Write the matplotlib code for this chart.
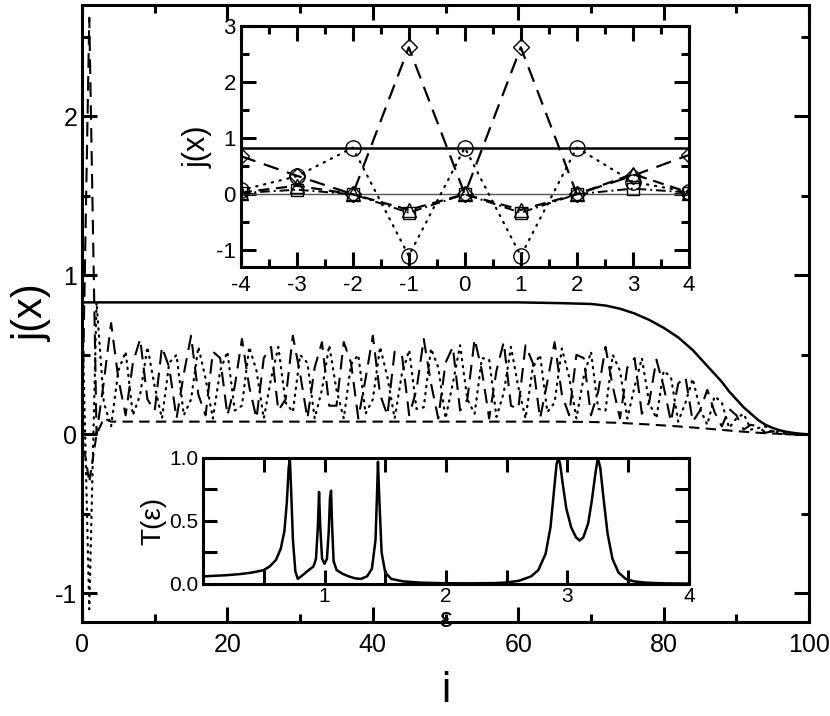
import matplotlib
matplotlib.use("Agg")
import matplotlib.pyplot as plt
from matplotlib.ticker import MultipleLocator

plt.rcParams['font.family'] = ['Liberation Sans Narrow', 'Liberation Sans', 'DejaVu Sans']
plt.rcParams['axes.unicode_minus'] = False

# ---- main panel data: j(x) along the chain, site index i ----
site = list(range(0, 101))

# solid line (flat, then decays)
solid_i = [0, 60, 66, 70, 72, 74, 76, 78, 80, 82, 84, 85, 86, 87, 88, 89, 90, 91, 92, 93, 94, 95, 96, 97, 98, 99, 100]
solid_j = [0.83, 0.83, 0.825, 0.82, 0.81, 0.79, 0.76, 0.72, 0.67, 0.61, 0.53, 0.48, 0.43, 0.38, 0.33, 0.27,
           0.22, 0.17, 0.13, 0.09, 0.06, 0.04, 0.025, 0.015, 0.008, 0.003, 0.0]

# long-dashed line (diamonds in the inset)
dash_j = [0.0, 2.62, 0.0, 0.33, 0.70, 0.35, 0.12, 0.45, 0.60, 0.22,
          0.15, 0.55, 0.42, 0.10, 0.38, 0.62, 0.25, 0.12, 0.52, 0.48,
          0.12, 0.30, 0.60, 0.30, 0.10, 0.48, 0.55, 0.15, 0.22, 0.62,
          0.38, 0.10, 0.42, 0.58, 0.18, 0.18, 0.58, 0.45, 0.10, 0.35,
          0.62, 0.25, 0.12, 0.52, 0.50, 0.12, 0.28, 0.60, 0.32, 0.10,
          0.45, 0.55, 0.15, 0.22, 0.60, 0.40, 0.10, 0.40, 0.58, 0.18,
          0.16, 0.56, 0.45, 0.10, 0.33, 0.58, 0.25, 0.12, 0.50, 0.48,
          0.12, 0.27, 0.55, 0.30, 0.10, 0.42, 0.48, 0.13, 0.20, 0.47,
          0.30, 0.08, 0.32, 0.36, 0.08, 0.15, 0.28, 0.14, 0.05, 0.16,
          0.12, 0.03, 0.06, 0.05, 0.01, 0.02, 0.01, 0.0, 0.0, 0.0, 0.0]

# dotted line (circles in the inset)
dot_j = [0.83, -1.10, 0.83, 0.20, 0.05, 0.40, 0.52, 0.12, 0.25, 0.55,
         0.30, 0.10, 0.45, 0.50, 0.12, 0.22, 0.55, 0.35, 0.10, 0.40,
         0.52, 0.15, 0.18, 0.55, 0.40, 0.10, 0.35, 0.55, 0.20, 0.14,
         0.50, 0.45, 0.10, 0.28, 0.56, 0.28, 0.10, 0.44, 0.50, 0.13,
         0.22, 0.55, 0.36, 0.10, 0.38, 0.53, 0.16, 0.17, 0.54, 0.42,
         0.10, 0.32, 0.56, 0.22, 0.13, 0.48, 0.47, 0.11, 0.26, 0.55,
         0.30, 0.10, 0.42, 0.50, 0.14, 0.20, 0.54, 0.36, 0.10, 0.36,
         0.52, 0.16, 0.15, 0.50, 0.40, 0.10, 0.30, 0.48, 0.20, 0.10,
         0.40, 0.36, 0.08, 0.20, 0.35, 0.16, 0.06, 0.24, 0.20, 0.04,
         0.10, 0.13, 0.03, 0.04, 0.05, 0.01, 0.02, 0.01, 0.0, 0.0, 0.0]

# short-dashed lower line
low_i = [0, 1, 2, 3, 4, 10, 30, 50, 65, 70, 74, 78, 82, 86, 90, 93, 96, 100]
low_j = [0.0, -0.30, 0.0, 0.10, 0.08, 0.08, 0.08, 0.08, 0.08, 0.078, 0.072, 0.062, 0.05, 0.036,
         0.02, 0.01, 0.003, 0.0]

# ---- upper inset: j(x) for x = -4..4 ----
x_in = [-4, -3, -2, -1, 0, 1, 2, 3, 4]
flat_in = [0.83, 0.83, 0.83, 0.83, 0.83, 0.83, 0.83, 0.83, 0.83]
diam_in = [0.68, 0.33, 0.0, 2.62, 0.0, 2.62, 0.0, 0.33, 0.70]
circ_in = [0.07, 0.32, 0.83, -1.10, 0.83, -1.10, 0.83, 0.22, 0.04]
tri_in = [0.03, 0.15, 0.0, -0.28, 0.0, -0.28, 0.0, 0.36, 0.03]
sq_in = [0.02, 0.08, 0.0, -0.33, 0.0, -0.33, 0.0, 0.10, 0.03]

# ---- lower inset: transmission T(eps) ----
eps = [0.0, 0.1, 0.2, 0.3, 0.4, 0.5, 0.55, 0.6, 0.64, 0.67, 0.69, 0.705, 0.715, 0.725, 0.74,
       0.76, 0.78, 0.82, 0.87, 0.91, 0.93, 0.945, 0.955, 0.965, 0.98, 1.0, 1.02, 1.035, 1.045,
       1.054, 1.063, 1.075, 1.1, 1.15, 1.2, 1.25, 1.3, 1.35, 1.39, 1.42, 1.435, 1.44, 1.45,
       1.47, 1.5, 1.55, 1.65, 1.8, 2.0, 2.2, 2.4, 2.5, 2.6, 2.7, 2.76, 2.82, 2.86, 2.89, 2.91,
       2.925, 2.94, 2.96, 2.99, 3.03, 3.07, 3.10, 3.13, 3.17, 3.20, 3.23, 3.25, 3.27, 3.30,
       3.33, 3.37, 3.42, 3.48, 3.55, 3.65, 3.8, 4.0]
trans = [0.06, 0.065, 0.07, 0.078, 0.09, 0.11, 0.14, 0.19, 0.28, 0.42, 0.65, 0.92, 0.99, 0.75, 0.35,
         0.10, 0.04, 0.07, 0.11, 0.14, 0.20, 0.45, 0.73, 0.45, 0.20, 0.16, 0.20, 0.42, 0.68,
         0.74, 0.45, 0.18, 0.11, 0.08, 0.06, 0.045, 0.04, 0.06, 0.12, 0.35, 0.80, 0.97, 0.70,
         0.25, 0.09, 0.04, 0.02, 0.01, 0.006, 0.005, 0.007, 0.012, 0.025, 0.06, 0.11, 0.24, 0.45, 0.75, 0.95,
         1.0, 0.95, 0.80, 0.60, 0.45, 0.37, 0.345, 0.37, 0.48, 0.66, 0.88, 1.0, 0.92, 0.65,
         0.40, 0.20, 0.09, 0.04, 0.02, 0.01, 0.005, 0.003]


def style_axes(ax, lw, major, minor, size):
    for s in ax.spines.values():
        s.set_linewidth(lw)
    ax.tick_params(which='both', direction='in', top=True, right=True, width=lw, labelsize=size)
    ax.tick_params(which='major', length=major)
    ax.tick_params(which='minor', length=minor)


fig = plt.figure(figsize=(8.3, 7.16), dpi=100)

# main panel
ax = fig.add_axes([0.0988, 0.1313, 0.876, 0.8617])
ax.plot(solid_i, solid_j, color='black', lw=1.8)
ax.plot(site, dash_j, color='black', lw=1.5, dashes=(7, 4))
ax.plot(site, dot_j, color='black', lw=1.6, dashes=(0.6, 2.6), dash_capstyle='round')
ax.plot(low_i, low_j, color='black', lw=1.5, dashes=(5, 3))
ax.set_xlim(0, 100)
ax.set_ylim(-1.18, 2.70)
ax.xaxis.set_major_locator(MultipleLocator(20))
ax.xaxis.set_minor_locator(MultipleLocator(10))
ax.yaxis.set_major_locator(MultipleLocator(1))
ax.yaxis.set_minor_locator(MultipleLocator(0.5))
style_axes(ax, 2.2, 11, 6, 18)
ax.tick_params(which='major', axis='x', pad=8)
ax.set_xlabel('i', fontsize=30, labelpad=10)
ax.set_ylabel('j(x)', fontsize=30, labelpad=2)

# upper inset
ax1 = fig.add_axes([0.290, 0.627, 0.540, 0.3366])
ax1.axhline(0, color='#555555', lw=1.0)
ax1.plot(x_in, flat_in, color='black', lw=1.8)
ax1.plot(x_in, diam_in, color='black', lw=1.6, dashes=(7, 4), marker='D', ms=8,
         mfc='none', mec='black', mew=1.0)
ax1.plot(x_in, circ_in, color='black', lw=1.6, dashes=(0.6, 3.0), dash_capstyle='round',
         marker='o', ms=11, mfc='none', mec='black', mew=1.0)
ax1.plot(x_in, tri_in, color='black', lw=1.6, dashes=(5, 3), marker='^', ms=10,
         mfc='none', mec='black', mew=1.0)
ax1.plot(x_in, sq_in, color='black', lw=1.4, dashes=(5, 2, 1, 2), marker='s', ms=9,
         mfc='none', mec='black', mew=1.0)
ax1.set_xlim(-4, 4)
ax1.set_ylim(-1.3, 3.0)
ax1.xaxis.set_major_locator(MultipleLocator(1))
ax1.xaxis.set_minor_locator(MultipleLocator(0.5))
ax1.yaxis.set_major_locator(MultipleLocator(1))
ax1.yaxis.set_minor_locator(MultipleLocator(0.5))
style_axes(ax1, 2.2, 11, 6, 16)
ax1.tick_params(which='major', axis='x', pad=6)
ax1.set_ylabel('j(x)', fontsize=22, labelpad=2)

# lower inset
ax2 = fig.add_axes([0.2446, 0.1844, 0.5855, 0.176])
ax2.plot(eps, trans, color='black', lw=1.8)
ax2.set_xlim(0, 4)
ax2.set_ylim(0, 1)
ax2.xaxis.set_minor_locator(MultipleLocator(0.5))
ax2.yaxis.set_minor_locator(MultipleLocator(0.25))
ax2.set_yticks([0.0, 0.5, 1.0])
ax2.set_yticklabels(['0.0', '0.5', '1.0'])
ax2.set_xticks([1, 2, 3, 4])
style_axes(ax2, 2.2, 10, 10, 15)
ax2.tick_params(axis='x', which='major', pad=2)
ax2.set_xlabel('ε', fontsize=20, labelpad=1)
ax2.set_ylabel('T(ε)', fontsize=20, labelpad=2)

fig.savefig('out.png', dpi=100)
